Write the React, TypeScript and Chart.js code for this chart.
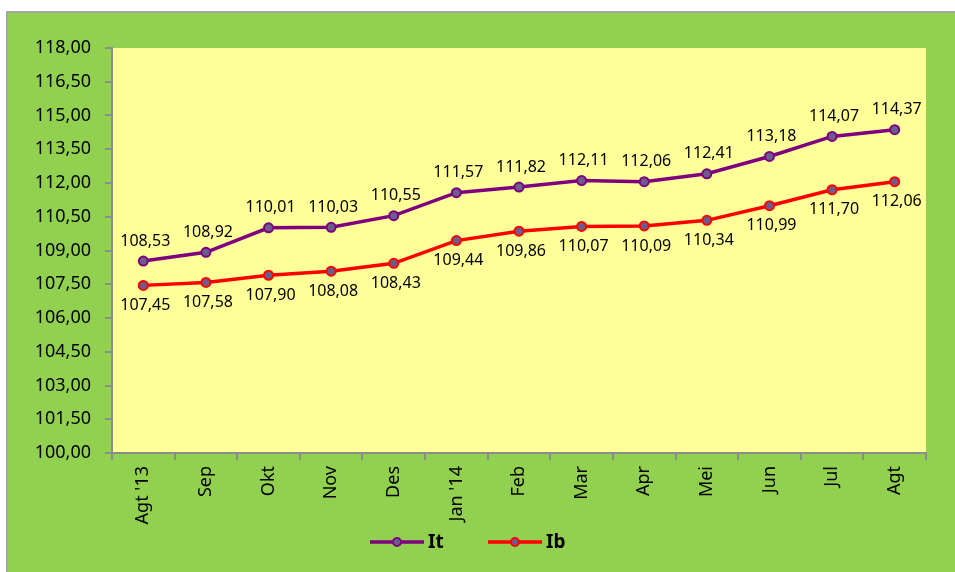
import React, { useEffect, useRef } from "react";
import { Chart, registerables } from "chart.js";

Chart.register(...registerables);

const categories = ["Agt '13", "Sep", "Okt", "Nov", "Des", "Jan '14", "Feb", "Mar", "Apr", "Mei", "Jun", "Jul", "Agt"];
const itValues = [108.53, 108.92, 110.01, 110.03, 110.55, 111.57, 111.82, 112.11, 112.06, 112.41, 113.18, 114.07, 114.37];
const ibValues = [107.45, 107.58, 107.9, 108.08, 108.43, 109.44, 109.86, 110.07, 110.09, 110.34, 110.99, 111.7, 112.06];
const yMin = 100;
const yMax = 118;
const yStep = 1.5;

const FONT = "'Noto Sans', 'Open Sans', sans-serif";
const fmt = (v: number) => v.toFixed(2).replace(".", ",");

const bgPlugin = {
  id: "bgPlugin",
  beforeDraw(chart: any) {
    const { ctx, width, height, chartArea } = chart;
    ctx.save();
    ctx.fillStyle = "#ffffff";
    ctx.fillRect(0, 0, width, height);
    ctx.fillStyle = "#A6A6A6";
    ctx.fillRect(6, 11, width - 6, height - 11);
    ctx.fillStyle = "#92D050";
    ctx.fillRect(8, 13, width - 8, height - 13);
    ctx.fillStyle = "#FFFF99";
    ctx.fillRect(chartArea.left, chartArea.top, chartArea.right - chartArea.left, chartArea.bottom - chartArea.top);
    ctx.restore();
  },
};

const labelPlugin = {
  id: "labelPlugin",
  afterDatasetsDraw(chart: any) {
    const { ctx } = chart;
    ctx.save();
    ctx.font = `16px ${FONT}`;
    ctx.fillStyle = "#000";
    ctx.textAlign = "center";
    ctx.textBaseline = "middle";
    chart.data.datasets.forEach((ds: any, i: number) => {
      const meta = chart.getDatasetMeta(i);
      const dir = ds.labelPos === "above" ? -1 : 1;
      meta.data.forEach((pt: any, j: number) => {
        ctx.fillText(fmt(ds.data[j]), pt.x + 2, pt.y + dir * 20);
      });
    });
    ctx.restore();
  },
};

const legendPlugin = {
  id: "customLegend",
  afterDraw(chart: any) {
    const { ctx } = chart;
    const y = 542;
    const starts = [370, 488];
    ctx.save();
    chart.data.datasets.forEach((ds: any, i: number) => {
      const x0 = starts[i];
      ctx.strokeStyle = ds.borderColor;
      ctx.lineWidth = 3.5;
      ctx.beginPath();
      ctx.moveTo(x0, y);
      ctx.lineTo(x0 + 54, y);
      ctx.stroke();
      ctx.beginPath();
      ctx.arc(x0 + 27, y, 4, 0, Math.PI * 2);
      ctx.fillStyle = ds.pointBackgroundColor;
      ctx.fill();
      ctx.lineWidth = 2;
      ctx.strokeStyle = ds.pointBorderColor;
      ctx.stroke();
      ctx.fillStyle = "#000";
      ctx.font = `bold 19px ${FONT}`;
      ctx.textAlign = "left";
      ctx.textBaseline = "middle";
      ctx.fillText(ds.label, x0 + 58, y + 1);
    });
    ctx.restore();
  },
};

export default function App() {
  const ref = useRef<HTMLCanvasElement>(null);
  useEffect(() => {
    document.body.style.margin = "0";
    const chart = new Chart(ref.current as HTMLCanvasElement, {
      type: "line",
      data: {
        labels: categories,
        datasets: [
          {
            label: "It",
            data: itValues,
            borderColor: "#7F007F",
            borderWidth: 3.5,
            pointBackgroundColor: "#6A5D8E",
            pointBorderColor: "#7F007F",
            pointBorderWidth: 2,
            pointRadius: 4.5,
            tension: 0,
            labelPos: "above",
          } as any,
          {
            label: "Ib",
            data: ibValues,
            borderColor: "#FF0000",
            borderWidth: 3.5,
            pointBackgroundColor: "#6A5D8E",
            pointBorderColor: "#FF0000",
            pointBorderWidth: 2,
            pointRadius: 4.5,
            tension: 0,
            labelPos: "below",
          } as any,
        ],
      },
      options: {
        responsive: false,
        animation: false,
        layout: { padding: { top: 48, right: 29, left: 0, bottom: 0 } },
        plugins: { legend: { display: false }, tooltip: { enabled: false } },
        scales: {
          x: {
            offset: true,
            grid: { offset: true, drawOnChartArea: false, drawTicks: true, tickLength: 7, color: "#8C8C8C", lineWidth: 2 },
            border: { display: true, color: "#8C8C8C", width: 2 },
            ticks: { minRotation: 90, maxRotation: 90, padding: 6, color: "#000", font: { family: FONT, size: 18 } },
            afterFit(scale: any) {
              scale.height = 119;
            },
          },
          y: {
            min: yMin,
            max: yMax,
            grid: { drawOnChartArea: false, drawTicks: true, tickLength: 7, color: "#8C8C8C", lineWidth: 2 },
            border: { display: true, color: "#8C8C8C", width: 2 },
            ticks: {
              stepSize: yStep,
              padding: 14,
              color: "#000",
              font: { family: FONT, size: 18 },
              callback: (v: any) => fmt(Number(v)),
            },
            afterFit(scale: any) {
              scale.width = 112;
            },
          },
        },
      },
      plugins: [bgPlugin, labelPlugin, legendPlugin],
    });
    return () => chart.destroy();
  }, []);
  return <canvas ref={ref} width={955} height={572} style={{ display: "block" }} />;
}
